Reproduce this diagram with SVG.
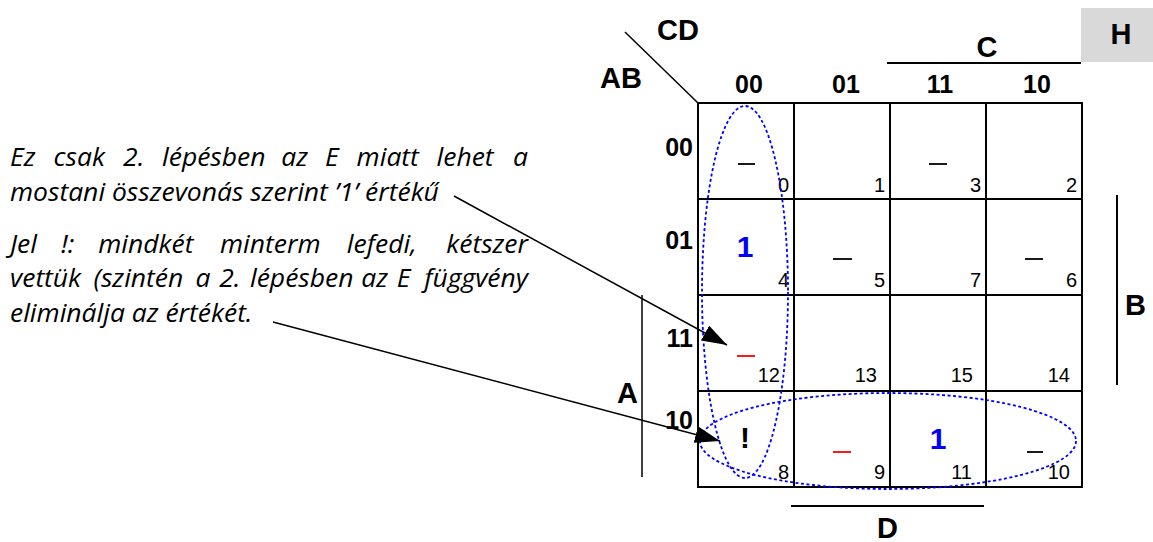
<svg xmlns="http://www.w3.org/2000/svg" width="1153" height="542" viewBox="0 0 1153 542">
<defs>
<style>
.grid{stroke:#000;stroke-width:2;fill:none}
.thin{stroke:#000;stroke-width:1.5;fill:none}
.lbl{font-family:"Liberation Sans",Arial,sans-serif;font-weight:bold;fill:#000}
.big{font-size:29px}
.hdr{font-size:25px}
.mid{text-anchor:middle}
.end{text-anchor:end}
.num{font-family:"Liberation Sans",Arial,sans-serif;font-size:20px;fill:#000;text-anchor:end}
.one{font-family:"Liberation Sans",Arial,sans-serif;font-size:30px;font-weight:bold;fill:#0000ff;text-anchor:middle}
.excl{font-family:"Liberation Sans",Arial,sans-serif;font-size:30px;font-weight:bold;fill:#000;text-anchor:middle}
.dc{stroke:#000;stroke-width:1.8}
.dcr{stroke:#ff0000;stroke-width:1.8}
.loop{fill:none;stroke:#0000ff;stroke-width:1.8;stroke-dasharray:3 2.5}
.note{font-family:"Open Sans","Liberation Sans",sans-serif;font-style:italic;font-size:25px;fill:#000}
.conn{stroke:#000;stroke-width:1.5;fill:none}
</style>
<marker id="ah" markerUnits="userSpaceOnUse" viewBox="0 0 25 17" refX="25" refY="8.5" markerWidth="25" markerHeight="17" orient="auto"><path d="M0,0 L25,8.5 L0,17 z" fill="#000"/></marker>
</defs>
<rect width="1153" height="542" fill="#fff"/>

<g id="h-tag">
<rect x="1081" y="8" width="72" height="54" fill="#d9d9d9"/>
<text class="lbl big mid" x="1121" y="44">H</text>
</g>

<g id="axis-labels">
<line class="thin" x1="625" y1="32" x2="698" y2="103"/>
<text class="lbl big" x="657" y="40">CD</text>
<text class="lbl big" x="600" y="88">AB</text>
<line class="grid" x1="887" y1="63" x2="1081" y2="63"/>
<text class="lbl big mid" x="987" y="57">C</text>
<line class="grid" x1="1117" y1="195" x2="1117" y2="385"/>
<text class="lbl big" x="1125" y="315">B</text>
<line class="thin" x1="642" y1="295" x2="642" y2="477"/>
<text class="lbl big" x="617" y="403">A</text>
<line class="grid" x1="791" y1="506" x2="984" y2="506"/>
<text class="lbl big" x="877" y="538">D</text>
<text class="lbl hdr mid" x="749" y="93">00</text>
<text class="lbl hdr mid" x="846" y="93">01</text>
<text class="lbl hdr mid" x="940" y="93">11</text>
<text class="lbl hdr mid" x="1037" y="93">10</text>
<text class="lbl hdr end" x="693" y="156">00</text>
<text class="lbl hdr end" x="693" y="249">01</text>
<text class="lbl hdr end" x="693" y="347">11</text>
<text class="lbl hdr end" x="693" y="429">10</text>
</g>

<g id="kmap-grid">
<rect class="grid" x="698" y="103" width="384" height="384"/>
<line class="grid" x1="794" y1="103" x2="794" y2="487"/>
<line class="grid" x1="890" y1="103" x2="890" y2="487"/>
<line class="grid" x1="986" y1="103" x2="986" y2="487"/>
<line class="grid" x1="698" y1="199" x2="1082" y2="199"/>
<line class="grid" x1="698" y1="295" x2="1082" y2="295"/>
<line class="grid" x1="698" y1="391" x2="1082" y2="391"/>
</g>

<g id="cell-0"><line class="dc" x1="738" y1="164" x2="755" y2="164"/><text class="num" x="789" y="192">0</text></g>
<g id="cell-1"><text class="num" x="885" y="192">1</text></g>
<g id="cell-3"><line class="dc" x1="929" y1="164" x2="947" y2="164"/><text class="num" x="981" y="192">3</text></g>
<g id="cell-2"><text class="num" x="1077" y="192">2</text></g>
<g id="cell-4"><text class="one" x="745" y="257">1</text><text class="num" x="789" y="287">4</text></g>
<g id="cell-5"><line class="dc" x1="833" y1="259" x2="852" y2="259"/><text class="num" x="885" y="287">5</text></g>
<g id="cell-7"><text class="num" x="981" y="287">7</text></g>
<g id="cell-6"><line class="dc" x1="1025" y1="259" x2="1043" y2="259"/><text class="num" x="1077" y="287">6</text></g>
<g id="cell-12"><line class="dcr" x1="737" y1="356" x2="755" y2="356"/><text class="num" x="780" y="382">12</text></g>
<g id="cell-13"><text class="num" x="877" y="382">13</text></g>
<g id="cell-15"><text class="num" x="973" y="382">15</text></g>
<g id="cell-14"><text class="num" x="1070" y="382">14</text></g>
<g id="cell-8"><text class="excl" x="745" y="448">!</text><text class="num" x="789" y="479">8</text></g>
<g id="cell-9"><line class="dcr" x1="833" y1="452" x2="851" y2="452"/><text class="num" x="885" y="479">9</text></g>
<g id="cell-11"><text class="one" x="938" y="449">1</text><text class="num" x="972" y="479">11</text></g>
<g id="cell-10"><line class="dc" x1="1027" y1="452" x2="1043" y2="452"/><text class="num" x="1070" y="479">10</text></g>

<g id="loop-vertical"><ellipse class="loop" cx="745" cy="292" rx="43" ry="186"/></g>
<g id="loop-horizontal"><ellipse class="loop" cx="888" cy="441" rx="188" ry="48"/></g>

<g id="note-1" transform="translate(10,0) scale(1.06,1) translate(-10,0)">
<text class="note" y="166"><tspan x="10">Ez</tspan><tspan x="51.1">csak</tspan><tspan x="116.7">2.</tspan><tspan x="153.4">lépésben</tspan><tspan x="266">az</tspan><tspan x="307.1">E</tspan><tspan x="337">miatt</tspan><tspan x="412.4">lehet</tspan></text>
<text class="note end" x="498.7" y="166">a</text>
<text class="note" x="10" y="201">mostani összevonás szerint ’1’ értékű</text>
</g>
<g id="note-2" transform="translate(10,0) scale(1.06,1) translate(-10,0)">
<text class="note" y="253"><tspan x="10">Jel</tspan><tspan x="58.1">!:</tspan><tspan x="93.2">mindkét</tspan><tspan x="208.1">minterm</tspan><tspan x="327.8">lefedi,</tspan></text>
<text class="note end" x="498.7" y="253">kétszer</text>
<text class="note" y="287"><tspan x="10">vettük</tspan><tspan x="88.7">(szintén</tspan><tspan x="185">a</tspan><tspan x="207.3">2.</tspan><tspan x="236.4">lépésben</tspan><tspan x="341.4">az</tspan><tspan x="374.9">E</tspan></text>
<text class="note end" x="498.7" y="287">függvény</text>
<text class="note" x="10" y="322">eliminálja az értékét.</text>
</g>

<g id="connectors">
<line class="conn" x1="454" y1="196" x2="727" y2="345" marker-end="url(#ah)"/>
<line class="conn" x1="273" y1="322" x2="720" y2="441" marker-end="url(#ah)"/>
</g>
</svg>
